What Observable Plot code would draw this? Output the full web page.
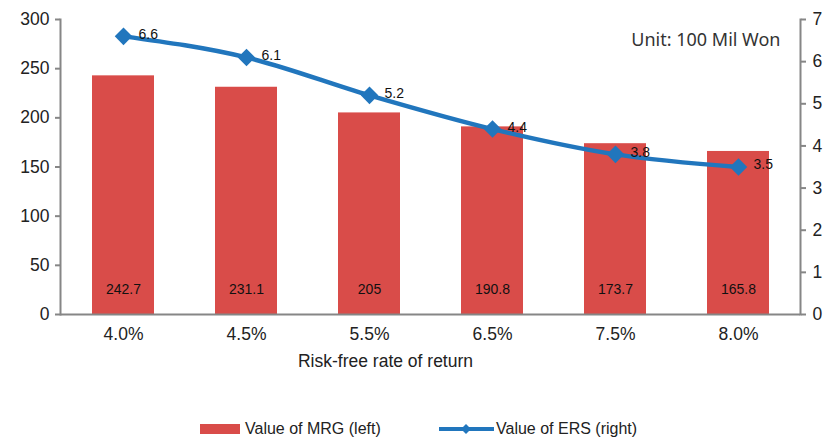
<!DOCTYPE html>
<html>
<head>
<meta charset="utf-8">
<script src="https://cdn.jsdelivr.net/npm/d3@7"></script>
<script src="https://cdn.jsdelivr.net/npm/@observablehq/plot@0.6"></script>
<style>
  body { margin: 0; background: #fff; font-family: "Liberation Sans", Arial, sans-serif; }
  #wrap { position: relative; width: 828px; height: 444px; }
  #legend { position: absolute; left: 0; top: 417px; width: 828px; height: 24px; font-size: 16px; color: #222; }
  .item { position: absolute; top: 0; display: flex; align-items: center; height: 24px; }
</style>
</head>
<body>
<div id="wrap">
  <div id="chart"></div>
  <div id="legend">
    <div class="item" style="left:200px">
      <svg width="42" height="24"><rect x="0" y="7" width="40" height="10" fill="#d94c49"></rect></svg>
      <span style="margin-left:3px">Value of MRG (left)</span>
    </div>
    <div class="item" style="left:438px">
      <svg width="58" height="24"><line x1="1" y1="12" x2="56" y2="12" stroke="#2176bd" stroke-width="4"></line><path d="M28,7L33,12L28,17L23,12Z" fill="#2176bd"></path></svg>
      <span style="margin-left:0px">Value of ERS (right)</span>
    </div>
  </div>
</div>
<script>
const categories = ["4.0%", "4.5%", "5.5%", "6.5%", "7.5%", "8.0%"];
const mrgValues = [242.7, 231.1, 205, 190.8, 173.7, 165.8];
const mrgLabels = ["242.7", "231.1", "205", "190.8", "173.7", "165.8"];
const ersValues = [6.6, 6.1, 5.2, 4.4, 3.8, 3.5];
const leftTicks = [0, 50, 100, 150, 200, 250, 300];
const rightTicks = [0, 1, 2, 3, 4, 5, 6, 7];
const leftMax = 300, rightMax = 7;
const xTitle = "Risk-free rate of return";
const unitText = "Unit: 100 Mil Won";

const k = leftMax / rightMax;
const rows = categories.map((c, i) => ({cat: c, mrg: mrgValues[i], mrgLabel: mrgLabels[i], ers: ersValues[i], ersScaled: ersValues[i] * k}));

const red = "#d94c49", blue = "#2176bd", axisGray = "#868686";

const chart = Plot.plot({
  width: 828,
  height: 380,
  marginTop: 19,
  marginBottom: 66,
  marginLeft: 60,
  marginRight: 28,
  style: {fontFamily: "Liberation Sans, Arial, sans-serif", fontSize: "16px", color: "#222"},
  x: {domain: categories, paddingInner: 0.5, paddingOuter: 0.25, label: null},
  y: {domain: [0, leftMax], label: null},
  marks: [
    Plot.barY(rows, {x: "cat", y: "mrg", fill: red}),
    Plot.text(rows, {x: "cat", text: "mrgLabel", frameAnchor: "bottom", dy: -21, fontSize: 14, fill: "#111"}),
    Plot.ruleY([0], {stroke: axisGray, strokeWidth: 2}),
    Plot.frame({anchor: "left", stroke: axisGray, strokeWidth: 2}),
    Plot.frame({anchor: "right", stroke: axisGray, strokeWidth: 2}),
    Plot.axisY(leftTicks, {anchor: "left", tickSize: 5, tickPadding: 6, stroke: axisGray, strokeWidth: 2, fontSize: 17.5, fill: "#222", label: null}),
    Plot.axisY(rightTicks.map(v => v * k), {anchor: "right", tickSize: 5, tickPadding: 7, stroke: axisGray, strokeWidth: 2, fontSize: 17.5, fill: "#222", tickFormat: d => String(Math.round(d / k)), label: null}),
    Plot.axisX({tickSize: 0, tickPadding: 13, fontSize: 17.5, fill: "#222", label: null}),
    Plot.lineY(rows, {x: "cat", y: "ersScaled", stroke: blue, strokeWidth: 4.5, curve: "monotone-x"}),
    Plot.dot(rows, {x: "cat", y: "ersScaled", symbol: "square", rotate: 45, r: 7, fill: blue}),
    Plot.text(rows, {x: "cat", y: "ersScaled", text: d => d.ers.toFixed(1), dx: 15, dy: -2, textAnchor: "start", fontSize: 14, fill: "#111"}),
    Plot.text([unitText], {frameAnchor: "top-right", dx: -20, dy: 14, textAnchor: "end", fontSize: 18, fontFamily: "Noto Sans, sans-serif", fill: "#333"}),
    Plot.text([xTitle], {frameAnchor: "bottom", dx: -45, dy: 52, fontSize: 17.5, fill: "#222"})
  ]
});
document.getElementById("chart").appendChild(chart);
</script>
</body>
</html>
